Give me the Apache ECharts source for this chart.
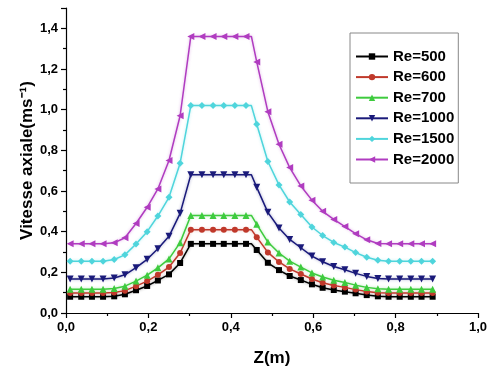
<!DOCTYPE html>
<html><head><meta charset="utf-8">
<script src="https://cdn.jsdelivr.net/npm/echarts@6/dist/echarts.min.js"></script>
<style>html,body{margin:0;padding:0;background:#fff}#c{width:490px;height:372px}</style>
</head><body><div id="c"></div>
<script>
const zValues = [0.010,0.037,0.063,0.090,0.117,0.143,0.170,0.197,0.223,0.250,0.277,
  0.303,0.330,0.357,0.383,0.410,0.437,0.450,
  0.463,0.490,0.517,0.543,0.570,0.597,0.623,0.650,0.677,0.703,0.730,0.757,
  0.783,0.810,0.837,0.863,0.890];
const cornerIndex = 17; // line corner point without marker
const re500  = [0.080,0.080,0.080,0.080,0.082,0.092,0.112,0.133,0.160,0.190,0.246,
  0.34,0.34,0.34,0.34,0.34,0.34,0.34,
  0.310,0.247,0.211,0.182,0.162,0.141,0.124,0.113,0.105,0.097,0.088,0.082,
  0.080,0.080,0.080,0.080,0.080];
const re600  = [0.098,0.098,0.098,0.098,0.101,0.110,0.132,0.157,0.188,0.226,0.295,
  0.41,0.41,0.41,0.41,0.41,0.41,0.41,
  0.373,0.298,0.251,0.217,0.192,0.167,0.149,0.135,0.126,0.115,0.106,0.100,
  0.098,0.098,0.098,0.098,0.098];
const re700  = [0.117,0.117,0.117,0.117,0.121,0.132,0.157,0.186,0.222,0.266,0.346,
  0.48,0.48,0.48,0.48,0.48,0.48,0.48,
  0.436,0.349,0.295,0.255,0.226,0.197,0.177,0.161,0.150,0.137,0.126,0.119,
  0.117,0.117,0.117,0.117,0.117];
const re1000 = [0.167,0.167,0.167,0.167,0.172,0.188,0.223,0.264,0.316,0.377,0.490,
  0.68,0.68,0.68,0.68,0.68,0.68,0.68,
  0.618,0.495,0.418,0.362,0.321,0.280,0.252,0.229,0.213,0.195,0.180,0.170,
  0.167,0.167,0.167,0.167,0.167];
const re1500 = [0.255,0.255,0.255,0.255,0.263,0.286,0.339,0.400,0.477,0.569,0.737,
  1.02,1.02,1.02,1.02,1.02,1.02,1.02,
  0.928,0.745,0.630,0.546,0.485,0.423,0.381,0.347,0.324,0.297,0.274,0.259,
  0.255,0.255,0.255,0.255,0.255];
const re2000 = [0.34,0.34,0.34,0.34,0.345,0.37,0.44,0.52,0.61,0.75,0.97,
  1.36,1.36,1.36,1.36,1.36,1.36,1.36,
  1.235,0.99,0.83,0.715,0.625,0.555,0.50,0.46,0.425,0.39,0.36,0.342,
  0.34,0.34,0.34,0.34,0.34];
const seriesNames = ['Re=500','Re=600','Re=700','Re=1000','Re=1500','Re=2000'];
const seriesData = [re500, re600, re700, re1000, re1500, re2000];
const colors = ['#000000','#c0392b','#3ecb3e','#1a1a7a','#4fd5dc','#b03cc0'];
const symbols = ['rect','circle','triangle','triangle','diamond','triangle'];
const rotates = [0,0,0,180,0,90];
const sizes = [6,6,7,7,7,7];

const fmt = v => {
  const r = Math.round(v*10)/10;
  if (Math.abs(r*10 % 2) > 0.01) return '';
  return r.toFixed(1).replace('.', ',');
};
const font = '"Liberation Sans", Arial, sans-serif';

const chart = echarts.init(document.getElementById('c'));
chart.setOption({
  animation: false,
  grid: {left: 66, right: 10, top: 8, bottom: 59},
  legend: {
    orient: 'vertical', left: 350, top: 33,
    padding: [16, 4, 16, 5],
    borderColor: '#888', borderWidth: 1,
    itemWidth: 32, itemHeight: 8, itemGap: 5.6,
    textStyle: {fontFamily: font, fontWeight: 'bold', fontSize: 15, color: '#000'},
    data: seriesNames
  },
  xAxis: {
    type: 'value', min: 0, max: 1, interval: 0.2,
    name: 'Z(m)', nameLocation: 'middle', nameGap: 37,
    nameTextStyle: {fontFamily: font, fontWeight: 'bold', fontSize: 17, color: '#000'},
    axisLine: {lineStyle: {color: '#000', width: 1.2}},
    axisTick: {length: 5, lineStyle: {color: '#000', width: 1.2}},
    minorTick: {show: true, splitNumber: 2, length: 3, lineStyle: {color: '#000', width: 1.2}},
    splitLine: {show: false},
    axisLabel: {fontFamily: font, fontWeight: 'bold', fontSize: 13, color: '#000', margin: 8, formatter: fmt}
  },
  yAxis: {
    type: 'value', min: 0, max: 1.5, interval: 0.2,
    name: 'Vitesse axiale(ms⁻¹)', nameLocation: 'middle', nameGap: 30,
    nameMoveOverlap: false,
    nameTextStyle: {fontFamily: font, fontWeight: 'bold', fontSize: 17, color: '#000'},
    axisLine: {show: true, lineStyle: {color: '#000', width: 1.2}},
    axisTick: {show: true, length: 5, lineStyle: {color: '#000', width: 1.2}},
    minorTick: {show: true, splitNumber: 2, length: 3, lineStyle: {color: '#000', width: 1.2}},
    splitLine: {show: false},
    axisLabel: {fontFamily: font, fontWeight: 'bold', fontSize: 13, color: '#000', margin: 8, formatter: fmt}
  },
  series: seriesNames.map((name, i) => ({
    name, type: 'line',
    symbol: symbols[i], symbolSize: sizes[i], symbolRotate: rotates[i],
    showAllSymbol: true,
    color: colors[i],
    lineStyle: {width: 1.5, color: colors[i], shadowColor: colors[i] + '66', shadowBlur: 3},
    itemStyle: {color: colors[i]},
    data: zValues.map((z, k) => k === cornerIndex
      ? {value: [z, seriesData[i][k]], symbol: 'none'}
      : [z, seriesData[i][k]])
  }))
});
</script></body></html>
